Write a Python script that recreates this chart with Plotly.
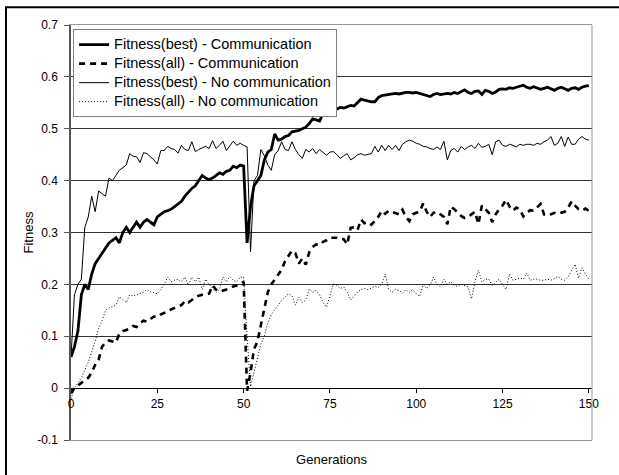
import plotly.graph_objects as go

generations = list(range(0, 151))

best_comm = [
    0.06, 0.08, 0.11, 0.18, 0.20, 0.19, 0.22, 0.24, 0.25, 0.26,
    0.27, 0.28, 0.285, 0.29, 0.28, 0.30, 0.31, 0.30, 0.31, 0.32,
    0.31, 0.32, 0.325, 0.32, 0.315, 0.33, 0.335, 0.34, 0.342, 0.345,
    0.35, 0.355, 0.36, 0.37, 0.378, 0.385, 0.39, 0.40, 0.41, 0.405,
    0.402, 0.405, 0.41, 0.415, 0.412, 0.418, 0.42, 0.428, 0.425, 0.43,
    0.428, 0.28, 0.35, 0.39, 0.40, 0.41, 0.44, 0.455, 0.46, 0.49,
    0.478, 0.48, 0.485, 0.487, 0.494, 0.495, 0.497, 0.50, 0.503, 0.51,
    0.519, 0.517, 0.515, 0.53, 0.538, 0.535, 0.54, 0.538, 0.541, 0.54,
    0.543, 0.545, 0.544, 0.55, 0.557, 0.555, 0.553, 0.552, 0.552, 0.56,
    0.564, 0.565, 0.566, 0.566, 0.568, 0.567, 0.569, 0.57, 0.570, 0.569,
    0.570, 0.568, 0.566, 0.564, 0.562, 0.566, 0.568, 0.566, 0.567, 0.568,
    0.567, 0.57, 0.568, 0.572, 0.575, 0.57, 0.568, 0.572, 0.573, 0.566,
    0.574, 0.572, 0.568, 0.571, 0.576, 0.577, 0.576, 0.579, 0.578, 0.58,
    0.582, 0.584, 0.58, 0.578, 0.581, 0.579, 0.576, 0.578, 0.58, 0.577,
    0.574, 0.578, 0.58, 0.577, 0.574, 0.578, 0.579, 0.576, 0.58, 0.582,
    0.583,
]

all_comm = [
    -0.01, 0.0, 0.005, 0.01, 0.015, 0.02, 0.03, 0.045, 0.055, 0.08,
    0.088, 0.092, 0.09, 0.088, 0.105, 0.11, 0.112, 0.115, 0.12, 0.118,
    0.125, 0.13, 0.128, 0.133, 0.138, 0.137, 0.142, 0.145, 0.147, 0.152,
    0.155, 0.158, 0.16, 0.168, 0.165, 0.17, 0.176, 0.178, 0.18, 0.18,
    0.182, 0.198, 0.19, 0.186, 0.188, 0.19, 0.192, 0.196, 0.198, 0.20,
    0.205, -0.005, 0.03, 0.075, 0.09, 0.12, 0.15, 0.185, 0.20, 0.21,
    0.22, 0.228, 0.245, 0.256, 0.265, 0.26, 0.24, 0.25, 0.238, 0.262,
    0.272, 0.277, 0.276, 0.282, 0.285, 0.29, 0.29, 0.29, 0.288, 0.287,
    0.277, 0.309, 0.31, 0.305, 0.325, 0.318, 0.32, 0.315, 0.322, 0.33,
    0.342, 0.336, 0.342, 0.34, 0.338, 0.335, 0.344, 0.33, 0.322, 0.335,
    0.338, 0.34, 0.356, 0.34, 0.33, 0.338, 0.34, 0.335, 0.33, 0.316,
    0.35, 0.345, 0.338, 0.332, 0.328, 0.33, 0.335, 0.34, 0.316, 0.352,
    0.345, 0.338, 0.32, 0.335, 0.345, 0.352, 0.363, 0.35, 0.342, 0.348,
    0.345, 0.331, 0.338, 0.343, 0.342, 0.348, 0.355, 0.335, 0.333, 0.335,
    0.338, 0.336, 0.338, 0.34, 0.348, 0.36, 0.352, 0.345, 0.342, 0.346,
    0.342,
]

best_nocomm = [
    0.06, 0.18, 0.20, 0.21, 0.31, 0.33, 0.37, 0.34, 0.38, 0.375,
    0.37, 0.405, 0.40, 0.41, 0.42, 0.425, 0.43, 0.452, 0.447, 0.446,
    0.435, 0.454, 0.452, 0.446, 0.44, 0.432, 0.458, 0.458, 0.466, 0.462,
    0.46, 0.453, 0.468, 0.46, 0.458, 0.475, 0.456, 0.46, 0.463, 0.466,
    0.462, 0.477, 0.462, 0.468, 0.476, 0.458, 0.467, 0.476, 0.468, 0.472,
    0.468, 0.465, 0.263, 0.40, 0.41, 0.46, 0.448, 0.43, 0.42, 0.45,
    0.458, 0.475, 0.46, 0.458, 0.475, 0.46, 0.45, 0.443, 0.46, 0.455,
    0.462, 0.452, 0.46, 0.455, 0.449, 0.455, 0.456, 0.45, 0.443, 0.448,
    0.452, 0.44, 0.444, 0.45, 0.452, 0.449, 0.45, 0.452, 0.466, 0.455,
    0.468, 0.458, 0.468, 0.46, 0.468, 0.458, 0.47, 0.475, 0.478, 0.476,
    0.472, 0.47, 0.466, 0.465, 0.462, 0.46, 0.465, 0.46, 0.476, 0.44,
    0.458, 0.462, 0.455, 0.466, 0.46, 0.465, 0.468, 0.462, 0.472, 0.464,
    0.466, 0.47, 0.45, 0.475, 0.478, 0.468, 0.466, 0.47, 0.468, 0.465,
    0.47, 0.468, 0.47, 0.47, 0.468, 0.472, 0.47, 0.475, 0.478, 0.485,
    0.468, 0.472, 0.485, 0.466, 0.484, 0.47, 0.47, 0.48, 0.485, 0.48,
    0.478,
]

all_nocomm = [
    -0.02, 0.0, 0.01, 0.02, 0.035, 0.05, 0.07, 0.09, 0.115, 0.13,
    0.15, 0.155, 0.157, 0.16, 0.176, 0.17, 0.165, 0.18, 0.178, 0.18,
    0.182, 0.185, 0.19, 0.186, 0.184, 0.182, 0.19, 0.20, 0.214, 0.205,
    0.208, 0.21, 0.205, 0.214, 0.198, 0.214, 0.205, 0.214, 0.19, 0.21,
    0.20, 0.192, 0.185, 0.19, 0.214, 0.205, 0.215, 0.208, 0.205, 0.214,
    0.214, 0.10, 0.003, 0.03, 0.06, 0.085, 0.10, 0.125, 0.142, 0.15,
    0.16, 0.169, 0.175, 0.182, 0.178, 0.16, 0.175, 0.165, 0.17, 0.191,
    0.185, 0.188, 0.18, 0.165, 0.156, 0.18, 0.201, 0.198, 0.192, 0.195,
    0.185, 0.17, 0.178, 0.185, 0.19, 0.192, 0.19, 0.193, 0.196, 0.194,
    0.20, 0.22, 0.19, 0.185, 0.19, 0.188, 0.183, 0.19, 0.185, 0.19,
    0.182, 0.177, 0.20, 0.192, 0.198, 0.214, 0.20, 0.195, 0.21, 0.20,
    0.205, 0.198, 0.196, 0.20, 0.198, 0.195, 0.172, 0.205, 0.227, 0.205,
    0.21, 0.21, 0.198, 0.205, 0.21, 0.20, 0.19, 0.22, 0.208, 0.21,
    0.212, 0.21, 0.222, 0.208, 0.21, 0.21, 0.208, 0.208, 0.21, 0.208,
    0.212, 0.215, 0.21, 0.208, 0.215, 0.227, 0.239, 0.212, 0.232, 0.22,
    0.21,
]

series_names = [
    "Fitness(best) - Communication",
    "Fitness(all) - Communication",
    "Fitness(best) - No communication",
    "Fitness(all) - No communication",
]

x_ticks = [0, 25, 50, 75, 100, 125, 150]
y_ticks = [-0.1, 0.0, 0.1, 0.2, 0.3, 0.4, 0.5, 0.6, 0.7]
y_tick_text = ["-0.1", "0", "0.1", "0.2", "0.3", "0.4", "0.5", "0.6", "0.7"]

FONT = "Liberation Sans, Arial, sans-serif"

fig = go.Figure()
styles = [
    dict(color="black", width=2.8),
    dict(color="black", width=2.6, dash="6px,5px"),
    dict(color="black", width=1),
    dict(color="black", width=1, dash="1px,2px"),
]
for name, vals, st in zip(series_names, [best_comm, all_comm, best_nocomm, all_nocomm], styles):
    fig.add_trace(go.Scatter(
        x=generations, y=vals, mode="lines",
        name='<span style="font-size:14.5px">' + name + "</span>",
        line=st,
    ))

# helper (empty) trace so the axis drawn at y=0 exists
fig.add_trace(go.Scatter(x=[], y=[], xaxis="x2", yaxis="y", showlegend=False, hoverinfo="skip"))

xr = [0, 150.9]
yr = [-0.1, 0.7]
fig.update_layout(
    width=619, height=475,
    margin=dict(l=71, r=27, t=25, b=32),
    paper_bgcolor="white", plot_bgcolor="white",
    font=dict(family=FONT, size=12, color="black"),
    showlegend=True,
    legend=dict(
        x=0.004, y=0.99, xanchor="left", yanchor="top",
        bgcolor="white", bordercolor="#808080", borderwidth=1,
        font=dict(family=FONT, size=11, color="black"),
        tracegroupgap=0, itemwidth=30,
    ),
    xaxis=dict(
        range=xr, showticklabels=False, ticks="", showgrid=False, zeroline=False,
        showline=True, linecolor="#999999", linewidth=1, mirror=True,
        title=dict(text="Generations", font=dict(family=FONT, size=13), standoff=14),
    ),
    xaxis2=dict(
        range=xr, overlaying="x", anchor="free", position=(0 - yr[0]) / (yr[1] - yr[0]),
        tickvals=x_ticks, ticktext=[str(v) for v in x_ticks],
        ticks="outside", ticklen=4, tickcolor="black",
        showline=True, linecolor="black", linewidth=1,
        showgrid=False, zeroline=False,
        tickfont=dict(family=FONT, size=12),
    ),
    yaxis=dict(
        range=yr, tickvals=y_ticks, ticktext=y_tick_text,
        ticks="outside", ticklen=5, tickcolor="#555555",
        showline=True, linecolor="#555555", linewidth=1.5,
        showgrid=True, gridcolor="#333333", gridwidth=1, zeroline=False,
        tickfont=dict(family=FONT, size=12), ticklabelstandoff=4,
        title=dict(text="Fitness", font=dict(family=FONT, size=13), standoff=1),
    ),
    shapes=[
        dict(type="line", xref="paper", yref="paper", x0=1, x1=1, y0=0, y1=1,
             line=dict(color="#999999", width=1)),
        dict(type="rect", xref="paper", yref="paper",
             x0=(6 - 71) / 521, x1=(660 - 71) / 521,
             y0=(443 - 520) / 418, y1=(443 - 7) / 418,
             line=dict(color="black", width=2)),
    ],
)

fig.write_html(
    "out.html",
    config={"displayModeBar": False},
    post_script="document.body.style.margin='0';document.body.style.overflow='hidden';",
)
